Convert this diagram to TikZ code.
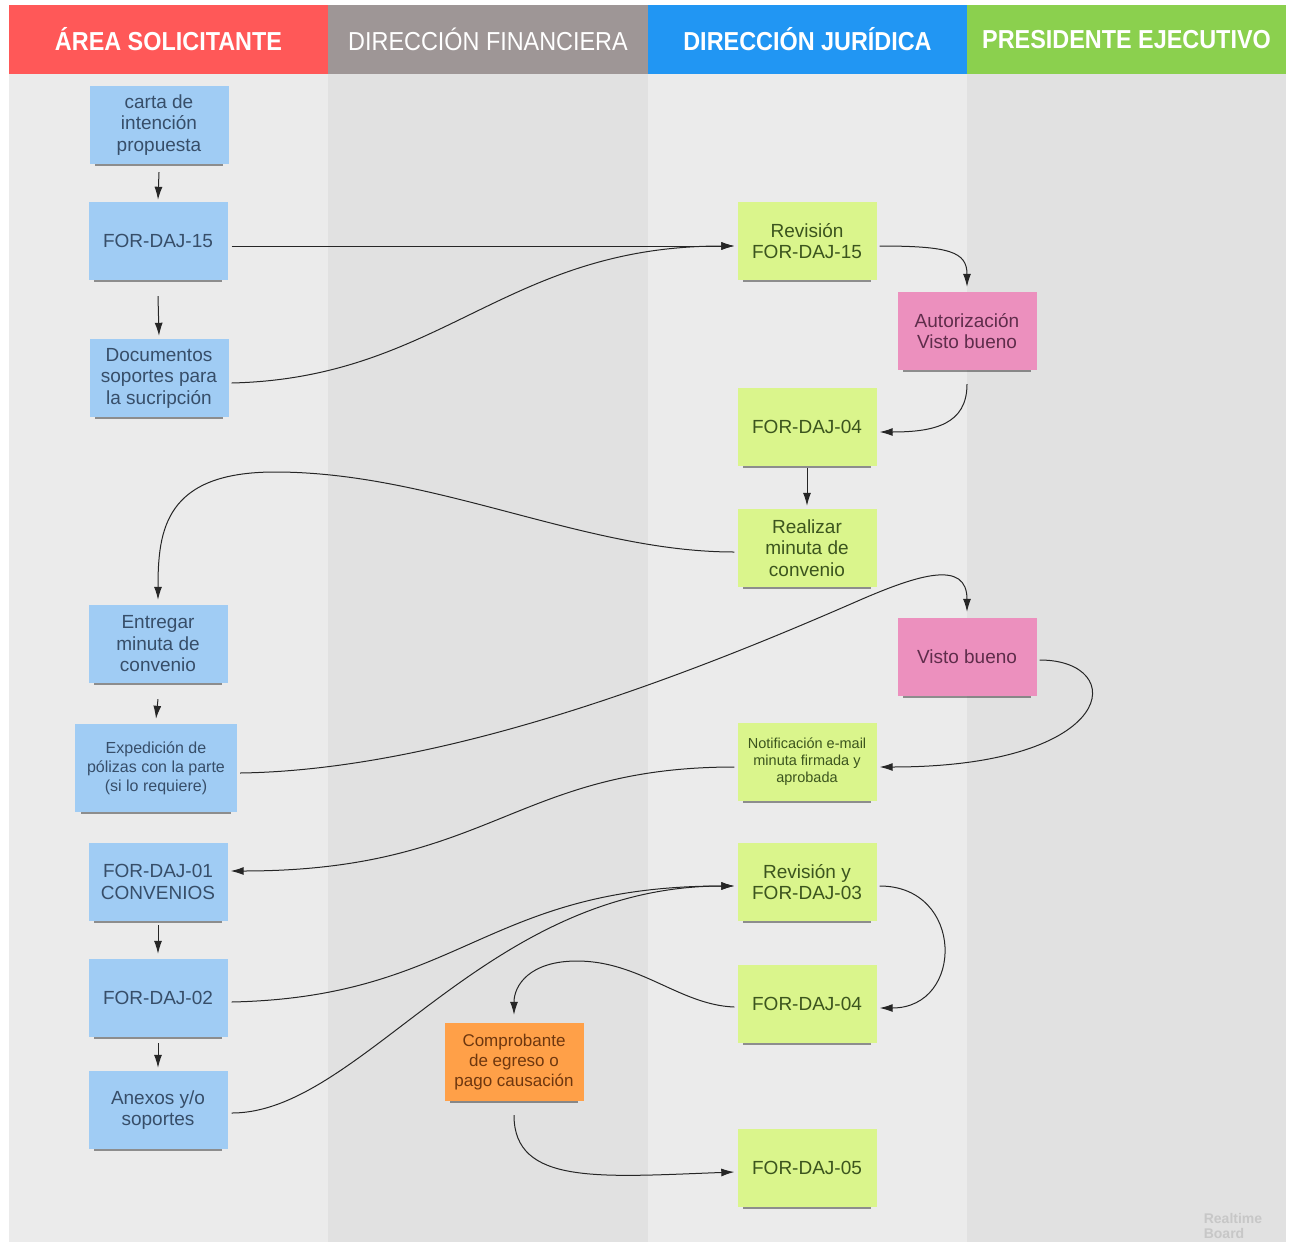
\documentclass[tikz,border=0pt]{standalone}
\usepackage{fontspec}
\setmainfont{Liberation Sans}
\usetikzlibrary{arrows.meta,shadows}
\definecolor{hdrRed}{RGB}{255,88,88}
\definecolor{hdrGray}{RGB}{158,150,150}
\definecolor{hdrBlue}{RGB}{33,150,243}
\definecolor{hdrGreen}{RGB}{139,208,78}
\definecolor{laneLight}{RGB}{235,235,235}
\definecolor{laneDark}{RGB}{225,225,225}
\definecolor{noteBlue}{RGB}{160,204,244}
\definecolor{noteGreen}{RGB}{218,245,140}
\definecolor{notePink}{RGB}{236,144,190}
\definecolor{noteOrange}{RGB}{255,160,72}
\definecolor{txtBlue}{RGB}{55,78,105}
\definecolor{txtGreen}{RGB}{60,85,30}
\definecolor{txtPink}{RGB}{95,45,75}
\definecolor{txtOrange}{RGB}{110,55,15}
\tikzset{
  note/.style={minimum width=139pt, minimum height=78pt, inner sep=0pt, align=center,
    font=\fontsize{19}{21.5}\selectfont,
    drop shadow={shadow xshift=0pt, shadow yshift=-6pt, shadow scale=0.92, opacity=0.4, fill=black}},
  bluenote/.style={note, fill=noteBlue, text=txtBlue},
  greennote/.style={note, fill=noteGreen, text=txtGreen},
  pinknote/.style={note, fill=notePink, text=txtPink},
  orangenote/.style={note, fill=noteOrange, text=txtOrange},
  hdr/.style={minimum width=319.5pt, minimum height=69pt, inner sep=0pt, text=white,
    font=\fontsize{26}{28}\selectfont},
  hdrbold/.style={hdr, font=\fontsize{26}{28}\selectfont\bfseries},
  arr/.style={draw=black!85, line width=1pt, -{Latex[length=13pt,width=8pt]}},
}
\begin{document}
\begin{tikzpicture}[x=1pt,y=-1pt]
\useasboundingbox (0,0) rectangle (1290,1242);
\fill[white] (0,0) rectangle (1290,1242);
% lanes
\fill[laneLight] (9,74) rectangle (328,1242);
\fill[laneDark] (328,74) rectangle (648,1242);
\fill[laneLight] (648,74) rectangle (967,1242);
\fill[laneDark] (967,74) rectangle (1286,1242);
% headers
\node[hdrbold, fill=hdrRed] (h1) at (168.5,39.5) {\scalebox{0.9}[1]{ÁREA SOLICITANTE}};
\node[hdr, fill=hdrGray] (h2) at (488,39.5) {\scalebox{0.9}[1]{DIRECCIÓN FINANCIERA}};
\node[hdrbold, fill=hdrBlue] (h3) at (807.5,39.5) {\scalebox{0.9}[1]{DIRECCIÓN JURÍDICA}};
\node[hdrbold, fill=hdrGreen] (h4) at (1126.5,39.5) {\scalebox{0.9}[1]{PRESIDENTE EJECUTIVO}};
% watermark
\node[text=black!22, font=\fontsize{14}{15}\selectfont\bfseries, align=left] (wm) at (1233,1226) {Realtime\\Board};
% blue notes
\node[bluenote] (carta) at (159,125) {carta de\\intención\\propuesta};
\node[bluenote] (f15) at (158,241) {FOR-DAJ-15};
\node[bluenote] (docs) at (159,378) {Documentos\\soportes para\\la sucripción};
\node[bluenote] (entregar) at (158,644) {Entregar\\minuta de\\convenio};
\node[bluenote, minimum width=162pt, minimum height=88pt, font=\fontsize{16}{19}\selectfont] (exped) at (156,768) {Expedición de\\pólizas con la parte\\(si lo requiere)};
\node[bluenote] (f01) at (158,882) {FOR-DAJ-01\\CONVENIOS};
\node[bluenote] (f02) at (158,998) {FOR-DAJ-02};
\node[bluenote] (anexos) at (158,1110) {Anexos y/o\\soportes};
% green notes
\node[greennote] (rev15) at (807,241) {Revisión\\FOR-DAJ-15};
\node[greennote] (f04a) at (807,427) {FOR-DAJ-04};
\node[greennote] (minuta) at (807,548) {Realizar\\minuta de\\convenio};
\node[greennote, font=\fontsize{14.5}{17}\selectfont] (notif) at (807,762) {Notificación e-mail\\minuta firmada y\\aprobada};
\node[greennote] (revy) at (807,882) {Revisión y\\FOR-DAJ-03};
\node[greennote] (f04b) at (807,1004) {FOR-DAJ-04};
\node[greennote] (f05) at (807,1168) {FOR-DAJ-05};
% pink notes
\node[pinknote] (p1) at (967,331) {Autorización\\Visto bueno};
\node[pinknote] (p2) at (967,657) {Visto bueno};
% orange note
\node[orangenote, font=\fontsize{17}{20}\selectfont] (comp) at (514,1062) {Comprobante\\de egreso o\\pago causación};
% helper coordinates
\coordinate (peak1) at (275,472);
\coordinate (mid2) at (860,600);
\coordinate (peak3) at (577,961);
% connectors
\draw[arr] ([yshift=-8pt]carta.south) -- ([yshift=2pt]f15.north);
\draw[arr] ([yshift=-16pt]f15.south) -- ([yshift=3pt]docs.north);
\draw[arr] ([xshift=4pt,yshift=-5pt]f15.east) -- ([xshift=-3pt,yshift=-5pt]rev15.west);
\draw[arr] ([xshift=3pt,yshift=-5pt]docs.east) .. controls +(210,-5) and +(-230,0) .. ([xshift=-3pt,yshift=-5pt]rev15.west);
\draw[arr] ([xshift=3pt,yshift=-5pt]rev15.east) .. controls +(70,0) and +(0,-35) .. ([yshift=5pt]p1.north);
\draw[arr] ([yshift=-14pt]p1.south) .. controls +(0,40) and +(55,0) .. ([xshift=3pt,yshift=-5pt]f04a.east);
\draw[arr] ([yshift=-2pt]f04a.south) -- ([yshift=3pt]minuta.north);
\draw[arr] ([xshift=-3pt,yshift=-4pt]minuta.west) .. controls +(-150,0) and +(160,0) .. (peak1) .. controls +(-110,0) and +(0,-70) .. ([yshift=5pt]entregar.north);
\draw[arr] ([yshift=-16pt]entregar.south) -- ([yshift=5pt]exped.north);
\draw[arr] ([xshift=3pt,yshift=-5pt]exped.east) .. controls (450,770) and (700,670) .. (mid2) .. controls (920,574) and (967,560) .. ([yshift=6pt]p2.north);
\draw[arr] ([xshift=3pt,yshift=-3pt]p2.east) .. controls +(90,0) and +(240,0) .. ([xshift=3pt,yshift=-5pt]notif.east);
\draw[arr] ([xshift=-3pt,yshift=-5pt]notif.west) .. controls +(-220,0) and +(260,0) .. ([xshift=3pt,yshift=11pt]f01.east);
\draw[arr] ([yshift=-4pt]f01.south) -- ([yshift=5pt]f02.north);
\draw[arr] ([xshift=4pt,yshift=-4pt]f02.east) .. controls +(230,-5) and +(-250,0) .. ([xshift=-3pt,yshift=-4pt]revy.west);
\draw[arr] ([xshift=4pt,yshift=-3pt]anexos.east) .. controls +(130,0) and +(-250,0) .. ([xshift=-3pt,yshift=-4pt]revy.west);
\draw[arr] ([yshift=-6pt]f02.south) -- ([yshift=3pt]anexos.north);
\draw[arr] ([xshift=3pt,yshift=-4pt]revy.east) .. controls +(85,0) and +(85,0) .. ([xshift=3pt,yshift=-4pt]f04b.east);
\draw[arr] ([xshift=-3pt,yshift=-3pt]f04b.west) .. controls (680,1005) and (640,961) .. (peak3) .. controls (530,961) and (514,985) .. ([yshift=8pt]comp.north);
\draw[arr] ([yshift=-14pt]comp.south) .. controls +(0,70) and +(-135,5) .. ([xshift=-3pt,yshift=-4pt]f05.west);
\end{tikzpicture}
\end{document}
